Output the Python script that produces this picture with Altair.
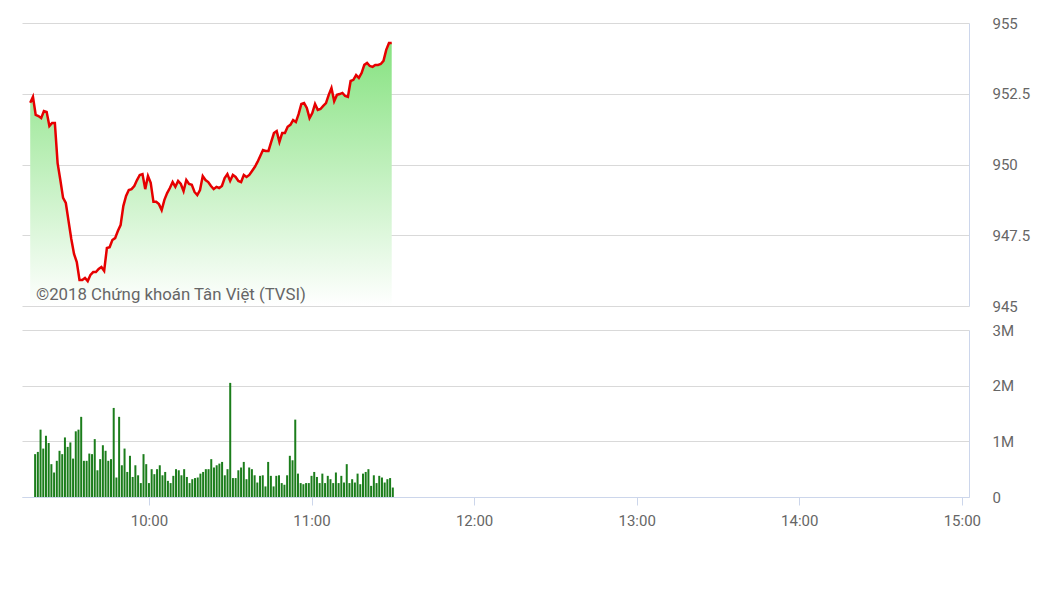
import altair as alt
import pandas as pd

# Session start (first point) and minute grid
START_H, START_M = 9, 18

# VN-Index, one point per minute from 09:18 to 11:30
price = [952.18, 952.39, 951.75, 951.71, 951.64, 951.89, 951.86, 951.36, 951.47, 951.47,
         950.05, 949.45, 948.82, 948.64, 948.00, 947.37, 946.84, 946.55, 945.92, 945.92,
         945.99, 945.88, 946.10, 946.20, 946.20, 946.31, 946.38, 946.24, 947.05, 947.08,
         947.33, 947.40, 947.65, 947.86, 948.53, 948.89, 949.10, 949.13, 949.24, 949.45,
         949.63, 949.66, 949.13, 949.59, 949.35, 948.68, 948.68, 948.60, 948.39, 948.75,
         948.99, 949.17, 949.38, 949.21, 949.42, 949.31, 949.06, 949.45, 949.31, 949.28,
         949.03, 948.92, 949.10, 949.59, 949.45, 949.38, 949.24, 949.13, 949.21, 949.17,
         949.24, 949.52, 949.66, 949.42, 949.63, 949.56, 949.42, 949.38, 949.63, 949.56,
         949.63, 949.77, 949.91, 950.09, 950.30, 950.51, 950.48, 950.48, 950.80, 951.11,
         951.18, 950.80, 951.11, 951.11, 951.33, 951.40, 951.57, 951.50, 951.78, 952.14,
         952.17, 952.00, 951.64, 951.82, 952.14, 951.93, 951.96, 952.07, 952.17, 952.46,
         952.70, 952.24, 952.46, 952.49, 952.53, 952.42, 952.39, 952.95, 952.99, 953.16,
         953.06, 953.23, 953.52, 953.59, 953.48, 953.45, 953.52, 953.52, 953.55, 953.66,
         954.05, 954.29, 954.29]

# Volume in millions of shares, one bar per minute
volume = [0.77, 0.81, 1.21, 0.87, 1.10, 0.97, 0.59, 0.44, 0.65, 0.83,
          0.77, 1.07, 0.90, 0.98, 0.69, 1.18, 1.21, 1.44, 0.65, 0.65,
          0.78, 0.77, 1.04, 0.48, 0.68, 0.93, 0.83, 0.65, 0.68, 1.60,
          0.35, 1.44, 0.57, 0.87, 0.45, 0.74, 0.36, 0.57, 0.39, 0.25,
          0.77, 0.59, 0.25, 0.50, 0.41, 0.50, 0.57, 0.39, 0.45, 0.29,
          0.25, 0.38, 0.50, 0.48, 0.39, 0.50, 0.36, 0.25, 0.32, 0.34,
          0.35, 0.42, 0.45, 0.50, 0.50, 0.68, 0.53, 0.57, 0.60, 0.63,
          0.39, 0.50, 2.05, 0.34, 0.34, 0.48, 0.53, 0.63, 0.32, 0.53,
          0.50, 0.39, 0.26, 0.38, 0.39, 0.19, 0.63, 0.38, 0.19, 0.38,
          0.39, 0.25, 0.22, 0.39, 0.74, 0.66, 1.39, 0.42, 0.25, 0.23,
          0.25, 0.25, 0.38, 0.45, 0.36, 0.25, 0.42, 0.25, 0.38, 0.32,
          0.25, 0.44, 0.25, 0.38, 0.26, 0.59, 0.25, 0.32, 0.26, 0.42,
          0.23, 0.42, 0.45, 0.50, 0.20, 0.39, 0.25, 0.38, 0.35, 0.26,
          0.32, 0.34, 0.17]

price_ticks = [945, 947.5, 950, 952.5, 955]
volume_ticks = [0, 1, 2, 3]
hour_ticks = [10, 11, 12, 13, 14, 15]
credit = "©2018 Chứng khoán Tân Việt (TVSI)"

times = []
for k in range(len(price)):
    tot = START_H * 60 + START_M + k
    times.append(f"2018-01-02T{tot // 60:02d}:{tot % 60:02d}:00")

df = pd.DataFrame({"time": times, "price": price, "volume": volume})

x_domain = [alt.DateTime(year=2018, month=1, date=2, hours=9, minutes=15),
            alt.DateTime(year=2018, month=1, date=2, hours=15, minutes=0, seconds=48)]
x_values = [alt.DateTime(year=2018, month=1, date=2, hours=h) for h in hour_ticks]

FONT = "Roboto"
LABEL = "#666666"
GRID = "#d9d9d9"
BORDER = "#ccd6eb"

xs_top = alt.X("time:T", scale=alt.Scale(domain=x_domain, nice=False), axis=None)

y_price = alt.Y("price:Q",
                scale=alt.Scale(domain=[945, 955], zero=False, nice=False),
                axis=alt.Axis(orient="right", values=price_ticks, format=".1~f",
                              ticks=False, tickSize=0, labelPadding=23,
                              domainColor=BORDER, grid=True, gridColor=GRID,
                              title=None))

area = alt.Chart(df).mark_area(
    color=alt.Gradient(gradient="linear",
                       stops=[alt.GradientStop(color="#86e280", offset=0),
                              alt.GradientStop(color="#ffffff", offset=1)],
                       x1=0, x2=0, y1=0, y2=1)
).encode(x=xs_top, y=y_price, y2=alt.datum(945))

line = alt.Chart(df).mark_line(color="#e60000", strokeWidth=2.5).encode(
    x=xs_top, y="price:Q")

txt = alt.Chart(pd.DataFrame({"t": [credit]})).mark_text(
    align="left", baseline="alphabetic", font=FONT, fontSize=16.8, color="#666666"
).encode(x=alt.value(14), y=alt.value(277), text="t:N")

upper = alt.layer(area, line, txt).properties(width=947, height=283)

bars = alt.Chart(df).mark_bar(size=2, color="#1b7d1b").encode(
    x=alt.X("time:T", scale=alt.Scale(domain=x_domain, nice=False),
            axis=alt.Axis(values=x_values, format="%H:%M", grid=False,
                          domainColor=BORDER, tickColor=BORDER, tickSize=8,
                          labelPadding=8, labelFlush=False, title=None)),
    y=alt.Y("volume:Q", scale=alt.Scale(domain=[0, 3], nice=False),
            axis=alt.Axis(orient="right", values=volume_ticks,
                          labelExpr="datum.value == 0 ? '0' : datum.value + 'M'",
                          ticks=False, tickSize=0, labelPadding=23,
                          domainColor=BORDER, grid=True, gridColor=GRID,
                          title=None))
).properties(width=947, height=167)

chart = alt.vconcat(upper, bars, spacing=9).configure_view(
    stroke=None
).configure_axis(
    labelFont=FONT, labelFontSize=15, labelColor=LABEL
).properties(
    padding={"left": 14, "top": 8, "right": 5, "bottom": 5},
    background="white"
)

chart.save("out.html", embed_options={"renderer": "svg", "actions": False})
